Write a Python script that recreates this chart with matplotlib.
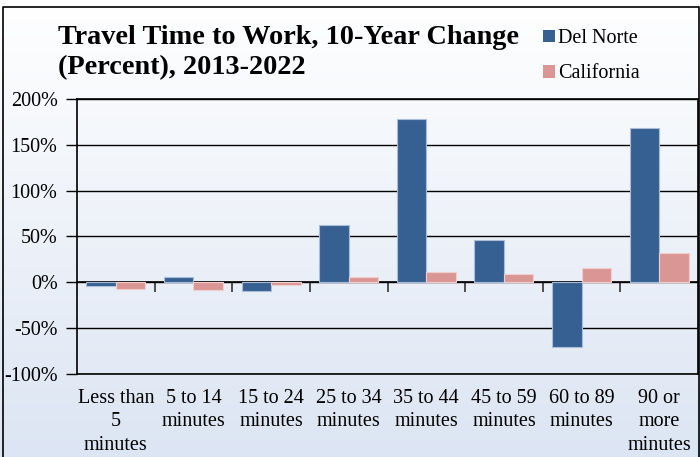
import matplotlib
matplotlib.use("Agg")
import matplotlib.pyplot as plt
import numpy as np
from matplotlib.patches import Patch

categories = ["Less than\n5\nminutes", "5 to 14\nminutes", "15 to 24\nminutes", "25 to 34\nminutes",
              "35 to 44\nminutes", "45 to 59\nminutes", "60 to 89\nminutes", "90 or\nmore\nminutes"]
del_norte = [-4.5, 5.5, -9.0, 63.0, 178.0, 46.5, -70.5, 168.0]
california = [-7.0, -8.8, -2.8, 6.0, 11.7, 9.5, 15.8, 32.0]
series_names = ["Del Norte", "California"]
title = "Travel Time to Work, 10-Year Change\n(Percent), 2013-2022"
yticks = [-100, -50, 0, 50, 100, 150, 200]

DN_COLOR = "#376092"
CA_COLOR = "#DA9694"

plt.rcParams["font.family"] = ["Liberation Serif", "DejaVu Serif"]

W, H = 700, 457
fig = plt.figure(figsize=(W / 100, H / 100), dpi=100)

# background gradient
bg = fig.add_axes([0, 0, 1, 1], zorder=-10)
grad = np.linspace(0, 1, 256).reshape(-1, 1)
top = np.array([1.0, 1.0, 1.0])
bot = np.array([0xdc, 0xe5, 0xf3]) / 255
img = top + (bot - top) * grad[:, :, None]
bg.imshow(img, aspect="auto", extent=[0, 1, 0, 1], origin="upper")
bg.set_xlim(0, 1); bg.set_ylim(0, 1)
bg.axis("off")
# outer border
bg.plot([3 / W, 3 / W, 699 / W, 699 / W], [0, 1 - 7 / H, 1 - 7 / H, 0], color="black", lw=1.2, clip_on=False)

ax = fig.add_axes([77 / W, 1 - 374 / H, (698 - 77) / W, (374 - 99) / H])
ax.patch.set_alpha(0)

x = np.arange(len(categories))
bw = 0.38
ax.bar(x - bw / 2, del_norte, bw, color=DN_COLOR, edgecolor="#a9bcd8", linewidth=0.8, zorder=3, label=series_names[0])
ax.bar(x + bw / 2, california, bw, color=CA_COLOR, edgecolor="#f2cfcf", linewidth=0.8, zorder=3, label=series_names[1])

ax.set_xlim(-0.5, len(categories) - 0.5)
ax.set_ylim(-100, 200)
ax.set_yticks(yticks)
ax.set_yticklabels([f"{v}%" for v in yticks], fontsize=14.5)
ax.tick_params(axis="y", direction="out", length=8, width=1, pad=6)
ax.yaxis.grid(True, color="black", lw=1, zorder=1)
ax.set_axisbelow(True)

ax.set_xticks(x)
ax.set_xticklabels(categories, fontsize=14.5, linespacing=1.3)
ax.tick_params(axis="x", length=0, pad=11)

for s in ax.spines.values():
    s.set_color("black"); s.set_linewidth(1.2)

# zero axis with boundary ticks
sec = ax.secondary_xaxis(1 / 3)
sec.set_xticks(np.arange(len(categories) - 1) + 0.5)
sec.set_xticklabels([])
sec.tick_params(axis="x", direction="out", length=7, width=1.2, color="#333333")
sec.spines["bottom"].set_linewidth(1.2)
sec.spines["bottom"].set_zorder(4)

fig.text(58 / W, 1 - 25 / H, title, fontsize=20.3, fontweight="bold", ha="left", va="top", linespacing=1.25)

handles = [Patch(facecolor=DN_COLOR, edgecolor="none"), Patch(facecolor=CA_COLOR, edgecolor="none")]
fig.legend(handles, series_names, loc="upper left", bbox_to_anchor=(525 / W, 1 - 11 / H), frameon=False,
           fontsize=14.5, handlelength=0.6, handleheight=0.6, handletextpad=0.15, labelspacing=0.8)

fig.savefig("out.png", dpi=100)
